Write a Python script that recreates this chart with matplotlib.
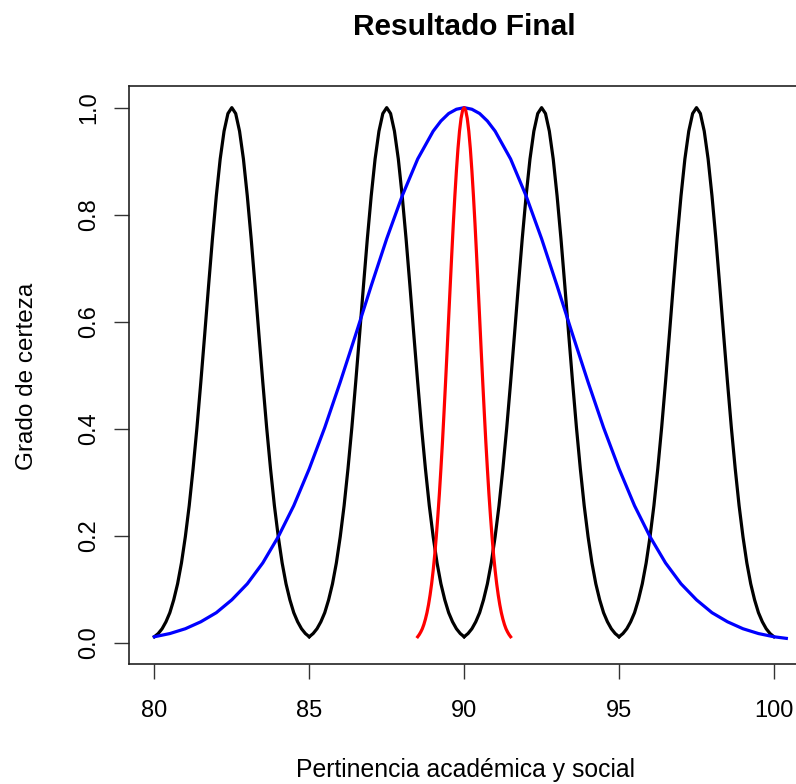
import matplotlib
matplotlib.use("Agg")
import numpy as np
import matplotlib.pyplot as plt

plt.rcParams["font.family"] = ["Liberation Sans", "DejaVu Sans"]

# black curves: same bell shape at four centres
black_centers = [82.5, 87.5, 92.5, 97.5]
black_offsets = [-2.5, -2.375, -2.25, -2.125, -2.0, -1.875, -1.75, -1.625, -1.5, -1.375,
                 -1.25, -1.125, -1.0, -0.875, -0.75, -0.625, -0.5, -0.375, -0.25, -0.125,
                 0.0,
                 0.125, 0.25, 0.375, 0.5, 0.625, 0.75, 0.875, 1.0, 1.125, 1.25,
                 1.375, 1.5, 1.625, 1.75, 1.875, 2.0, 2.125, 2.25, 2.375, 2.5]
black_y = [0.011, 0.017, 0.026, 0.039, 0.056, 0.080, 0.110, 0.149, 0.198, 0.256,
           0.325, 0.402, 0.487, 0.576, 0.667, 0.755, 0.835, 0.904, 0.956, 0.989,
           1.000,
           0.989, 0.956, 0.904, 0.835, 0.755, 0.667, 0.576, 0.487, 0.402, 0.325,
           0.256, 0.198, 0.149, 0.110, 0.080, 0.056, 0.039, 0.026, 0.017, 0.011]

# blue curve (wide), centred on 90
blue_x = [80.0, 80.5, 81.0, 81.5, 82.0, 82.5, 83.0, 83.5, 84.0, 84.5, 85.0, 85.5,
          86.0, 86.5, 87.0, 87.5, 88.0, 88.5, 89.0, 89.25, 89.5, 89.75, 90.0, 90.25,
          90.5, 90.75, 91.0, 91.5,
          92.0, 92.5, 93.0, 93.5, 94.0, 94.5, 95.0, 95.5, 96.0, 96.5, 97.0, 97.5,
          98.0, 98.5, 99.0, 99.5, 100.0, 100.4]
blue_y = [0.011, 0.017, 0.026, 0.039, 0.056, 0.080, 0.110, 0.149, 0.198, 0.256, 0.325, 0.402,
          0.487, 0.576, 0.667, 0.755, 0.835, 0.904, 0.956, 0.975, 0.989, 0.997, 1.000, 0.997,
          0.989, 0.975, 0.956, 0.904,
          0.835, 0.755, 0.667, 0.576, 0.487, 0.402, 0.325, 0.256, 0.198, 0.149, 0.110, 0.080,
          0.056, 0.039, 0.026, 0.017, 0.011, 0.008]

# red curve (narrow), centred on 90
red_x = [88.5, 88.55, 88.6, 88.65, 88.7, 88.75, 88.8, 88.85, 88.9, 88.95, 89.0, 89.05,
         89.1, 89.15, 89.2, 89.25, 89.3, 89.35, 89.4, 89.45, 89.5, 89.55, 89.6, 89.65,
         89.7, 89.75, 89.8, 89.85, 89.9, 89.95, 90.0,
         90.05, 90.1, 90.15, 90.2, 90.25, 90.3, 90.35, 90.4, 90.45, 90.5, 90.55, 90.6,
         90.65, 90.7, 90.75, 90.8, 90.85, 90.9, 90.95, 91.0, 91.05, 91.1, 91.15, 91.2,
         91.25, 91.3, 91.35, 91.4, 91.45, 91.5]
red_y = [0.011, 0.015, 0.020, 0.026, 0.034, 0.044, 0.056, 0.071, 0.089, 0.110, 0.135, 0.164,
         0.198, 0.236, 0.278, 0.325, 0.375, 0.430, 0.487, 0.546, 0.607, 0.667, 0.726, 0.783,
         0.835, 0.882, 0.923, 0.956, 0.980, 0.995, 1.000,
         0.995, 0.980, 0.956, 0.923, 0.882, 0.835, 0.783, 0.726, 0.667, 0.607, 0.546, 0.487,
         0.430, 0.375, 0.325, 0.278, 0.236, 0.198, 0.164, 0.135, 0.110, 0.089, 0.071, 0.056,
         0.044, 0.034, 0.026, 0.020, 0.015, 0.011]

x_ticks = [80, 85, 90, 95, 100]
y_ticks = [0.0, 0.2, 0.4, 0.6, 0.8, 1.0]

fig = plt.figure(figsize=(7.96, 7.84), dpi=100)
ax = fig.add_axes([0.162, 0.153, 0.857, 0.737])

for c in black_centers:
    ax.plot(np.array(black_offsets) + c, black_y, color="black", lw=2.3)
ax.plot(blue_x, blue_y, color="blue", lw=2.3)
ax.plot(red_x, red_y, color="red", lw=2.3)

ax.set_xlim(79.18, 101.2)
ax.set_ylim(-0.04, 1.04)
ax.set_xticks(x_ticks)
ax.set_xticklabels([str(t) for t in x_ticks])
ax.set_yticks(y_ticks)
ax.set_yticklabels([f"{t:.1f}" for t in y_ticks], rotation=90, va="center")
ax.tick_params(length=11, width=1, labelsize=17, color="#333333")
ax.tick_params(axis="x", pad=15)
ax.tick_params(axis="y", pad=10)
for s in ax.spines.values():
    s.set_linewidth(1.2)
    s.set_color("#222222")
ax.spines["right"].set_visible(False)

fig.text(0.583, 0.965, "Resultado Final", ha="center", va="center",
         fontsize=21.5, fontweight="bold")
fig.text(0.585, 0.018, "Pertinencia académica y social", ha="center", va="center",
         fontsize=17.8)
fig.text(0.034, 0.520, "Grado de certeza", ha="center", va="center",
         rotation=90, fontsize=17.5)

fig.savefig("out.png", dpi=100)
